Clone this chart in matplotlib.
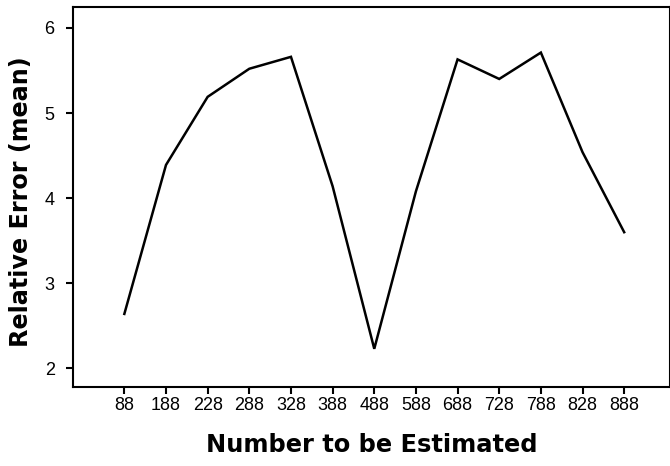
import matplotlib as mpl
import matplotlib.pyplot as plt
import numpy as np

mpl.rcParams['font.family'] = 'Liberation Sans'

# Data
categories = ["88", "188", "228", "288", "328", "388", "488",
              "588", "688", "728", "788", "828", "888"]
rel_error = [2.64, 4.39, 5.19, 5.52, 5.66, 4.14, 2.23,
             4.08, 5.63, 5.40, 5.71, 4.54, 3.60]

fig = plt.figure(figsize=(6.7, 4.66), dpi=100)
ax = fig.add_axes([0.1085, 0.170, 0.8915, 0.814])

x = np.arange(len(categories))
ax.plot(x, rel_error, color='black', linewidth=1.8, solid_joinstyle='miter')

ax.set_xlim(-1.24, len(categories) - 1 + 1.1)
ax.set_ylim(1.784, 6.24)
ax.set_xticks(x)
ax.set_xticklabels(categories)
ax.set_yticks([2, 3, 4, 5, 6])

for s in ax.spines.values():
    s.set_linewidth(1.5)
    s.set_color('black')

ax.tick_params(axis='both', direction='out', length=5, width=1.5,
               labelsize=13, colors='black')
ax.tick_params(axis='x', pad=2)
ax.tick_params(axis='y', pad=8)

ax.set_xlabel('Number to be Estimated', family='DejaVu Sans',
              fontweight='bold', fontsize=17.4, labelpad=14)
ax.set_ylabel('Relative Error (mean)', family='DejaVu Sans',
              fontweight='bold', fontsize=17.2)
ax.yaxis.set_label_coords(-0.067, 0.489)

plt.savefig('out.png', dpi=100)
